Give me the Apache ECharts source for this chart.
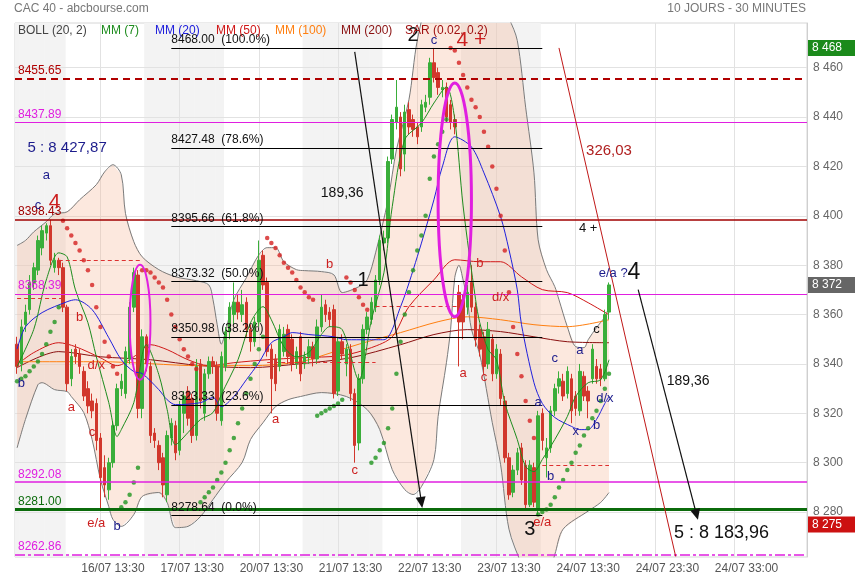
<!DOCTYPE html>
<html><head><meta charset="utf-8"><title>CAC 40</title>
<script src="https://cdn.jsdelivr.net/npm/echarts@6.0.0/dist/echarts.min.js"></script>
<style>html,body{margin:0;padding:0;background:#fff;}#chart{width:855px;height:580px;}</style>
</head><body><div id="chart"></div><script>
// ---------------- DATA ----------------
const TOTAL_SLOTS = 190, SLOTS_PER_DAY = 19, FIRST_DAY_START = 12, FIRST_LABEL_SLOT = 23, FIRST_GRID_SLOT = 20;
const Y_MIN = 8261.8, Y_MAX = 8478.1;
const xTickLabels = ['16/07 13:30','17/07 13:30','20/07 13:30','21/07 13:30','22/07 13:30','23/07 13:30','24/07 13:30','24/07 23:30','24/07 33:00'];
const yTickValues = [8280,8300,8320,8340,8360,8380,8400,8420,8440,8460];
// [open, close, low, high]
const candles = [
[8348,8339,8336,8351],[8340,8355,8337,8358],[8356,8361,8353,8364],[8362,8373,8360,8376],[8373,8379,8370,8381],
[8378,8390,8376,8392],[8387,8394,8384,8396],[8393,8396,8390,8397],[8396,8382,8380,8398.4],[8379,8382,8377,8385],
[8382,8379,8376,8383],[8379,8363,8361,8381],[8363,8332,8329,8364],[8334,8343,8331,8346],[8346,8343,8340,8348],
[8344,8339,8336,8346],[8337,8327,8325,8339],[8330,8323,8320,8333],[8325,8321,8318,8328],[8324,8309,8305,8326],
[8310,8294,8281,8312],[8298,8291,8286,8303],[8289,8300,8285,8302],[8300,8315,8298,8317],[8315,8330,8313,8332],
[8330,8333,8327,8336],[8328,8345,8326,8347],[8342,8363,8340,8365],[8363,8377,8361,8379],[8376,8322,8318,8378],
[8322,8351,8318,8354],[8351,8340,8337,8352],[8339,8311,8308,8341],[8312,8309,8306,8314],[8307,8300,8297,8309],
[8302,8291,8286,8304],[8287,8311,8284,8313],[8310,8316,8307,8318],[8315,8304,8301,8317],[8305,8323,8303,8325],
[8320,8327,8312,8329],[8329,8318,8315,8331],[8326,8311,8308,8328],[8311,8339,8309,8342],[8340,8325,8322,8342],
[8320,8336,8317,8338],[8336,8341,8334,8343],[8341,8339,8336,8343],[8339,8320,8317,8341],[8317,8343,8315,8345],
[8339,8353,8337,8355],[8353,8363,8350,8365],[8360,8365,8356,8373],[8365,8361,8358,8368],[8360,8364,8357,8370],
[8365,8354,8351,8367],[8354,8349,8345,8356],[8349,8357,8347,8359],[8357,8382,8355,8390],[8384,8372,8370,8386],
[8373,8345,8343,8375],[8346,8334,8320,8348],[8342,8332,8329,8344],[8339,8354,8337,8356],[8345,8352,8343,8355],
[8354,8343,8340,8356],[8350,8340,8337,8352],[8340,8345,8338,8347],[8351,8336,8333,8353],[8340,8343,8338,8345],
[8343,8347,8340,8350],[8347,8342,8339,8349],[8342,8355,8340,8358],[8355,8363,8353,8368],[8364,8360,8357,8366],
[8361,8358,8355,8363],[8362,8328,8326,8364],[8329,8349,8327,8351],[8349,8344,8342,8352],[8340,8346,8335,8348],
[8346,8328,8325,8348],[8328,8307,8300,8330],[8308,8334,8305,8336],[8334,8354,8332,8356],[8354,8359,8352,8361],
[8358,8365,8356,8367],[8363,8374,8361,8376],[8374,8390,8372,8392],[8389,8391,8386,8394],[8391,8422,8389,8424],
[8423,8439,8421,8441],[8438,8444,8435,8455],[8440,8419,8416,8442],[8425,8442,8418,8445],[8443,8436,8433,8446],
[8439,8435,8432,8441],[8436,8432,8429,8438],[8436,8445,8434,8447],[8444,8446,8442,8449],[8448,8462,8445,8464],
[8462,8456,8454,8468],[8458,8452,8449,8460],[8451,8452,8448,8455],[8452,8440,8438,8454],[8445,8438,8435,8447],
[8439,8436,8433,8441],[8369,8357,8339,8372],[8366,8357,8350,8368],[8363,8369,8360,8372],[8373,8363,8361,8380],
[8363,8350,8347,8365],[8354,8346,8343,8356],[8351,8339,8336,8353],[8340,8354,8338,8357],[8350,8336,8333,8352],
[8336,8346,8334,8348],[8344,8326,8323,8346],[8325,8302,8300,8327],[8302,8287,8285,8304],[8288,8297,8286,8299],
[8297,8304,8295,8306],[8306,8293,8291,8308],[8299,8283,8281,8301],[8283,8299,8282,8301],[8298,8284,8282,8300],
[8281,8319,8278.64,8321],[8320,8309,8305,8322],[8302,8306,8294,8310],[8306,8321,8304,8323],[8321,8330,8319,8332],
[8331,8334,8328,8337],[8333,8327,8325,8336],[8328,8337,8326,8339],[8334,8321,8316,8336],[8327,8322,8319,8329],
[8321,8337,8319,8340],[8335,8327,8325,8337],[8329,8325,8318,8331],[8334,8346,8332,8348],[8339,8334,8332,8342],
[8338,8334,8331,8340],[8334,8360,8333,8362],[8361,8372,8358,8373]
];
// indicators: [slot, value]
const bollUpper = [[0,8388],[2,8390],[4,8393.5],[7,8397.6],[9,8400.8],[12,8401.6],[15,8406.5],[19,8412.6],[21,8417.8],[23,8420.7],[25,8416.6],[26,8401],[28,8389.5],[30,8383.4],[34,8378.2],[38,8375.3],[43,8373.7],[46,8372],[47,8366],[48,8356],[49,8348],[50,8353],[52,8366],[55,8374.9],[58,8384.2],[60,8387.1],[62,8387.1],[64,8381.4],[67,8378.2],[69,8377.8],[73,8377.4],[76,8376.1],[78,8368.9],[82,8371.3],[84,8374.1],[86,8385],[89,8406.5],[91,8426.7],[94,8447],[96,8471],[99,8490],[103,8500],[107,8503],[111,8500],[115,8490],[118,8480],[120,8471],[122,8444],[124,8417.4],[125,8390.3],[127,8378.2],[129,8371.3],[130,8366],[132,8355.1],[134,8347],[136,8346.6],[137,8349.8],[139,8354.7],[141,8359.1],[142,8363.2]];
const bollLower = [[0,8306],[2,8317.5],[5,8331.6],[6,8332.4],[9,8329.6],[12,8328.8],[13,8326.8],[16,8320.3],[18,8309.4],[20,8293.2],[22,8282.2],[23,8277],[25,8274.2],[28,8279],[30,8286.3],[34,8287.9],[36,8283.9],[38,8273.7],[41,8274.2],[44,8278.2],[47,8285.1],[50,8292],[54,8300.1],[56,8309.4],[59,8316.2],[62,8322.7],[65,8325.5],[68,8326.8],[73,8328.4],[79,8326.8],[84,8321.5],[87,8313.4],[90,8297.2],[93,8289.1],[95,8287.1],[97,8290.3],[100,8301.3],[101,8318.7],[103,8340.5],[104,8354],[105,8375],[106,8380],[107,8374],[108,8366],[109,8354],[111,8343.8],[114,8316.2],[116,8299.2],[118,8273.1],[121,8258.8],[123,8250.7],[127,8252.7],[129,8262.8],[131,8273.1],[137,8280.4],[140,8283.9],[142,8287.9]];
const mm7 = [[0,8339],[4,8354],[7,8374],[10,8385],[12,8383.4],[14,8370],[17,8356.7],[19,8343],[22,8324.3],[24,8310.6],[25,8313.4],[28,8324.3],[31,8347.8],[34,8335.7],[36,8321.5],[38,8307.3],[41,8312.2],[44,8317.5],[47,8320.3],[49,8327.6],[53,8341.7],[56,8356.7],[59,8363.2],[61,8357.9],[64,8347],[67,8342.9],[70,8344.6],[73,8351.9],[75,8355.1],[78,8353.9],[82,8333.6],[85,8357.9],[88,8376.9],[90,8403.7],[93,8430.8],[97,8437.6],[100,8445.7],[103,8452.2],[105,8438.9],[107,8404],[110,8366],[111,8356.7],[113,8345.8],[115,8341.7],[117,8324.3],[120,8309.4],[122,8298.4],[124,8296.4],[126,8301.3],[129,8309.4],[132,8318.7],[134,8326.8],[137,8332.4],[140,8333.6],[142,8341.7]];
const mm20 = [[0,8346],[2,8355],[6,8360.8],[12,8365.2],[14,8366],[18,8362],[22,8350.6],[25,8341.7],[28,8336.9],[30,8336.1],[34,8329.6],[36,8325.5],[38,8323.5],[44,8324.3],[47,8326.4],[49,8322.7],[52,8326.8],[55,8333.6],[58,8340.5],[61,8348.6],[64,8351],[66,8352.7],[70,8351.9],[76,8351],[79,8349.8],[84,8349.8],[88,8349.8],[92,8363.2],[96,8383.4],[100,8406.5],[102,8419.8],[105,8432],[109,8427.9],[112,8417.4],[116,8399.6],[118,8386.3],[120,8370],[121,8356],[124,8332.4],[126,8324],[129,8318.3],[133,8314.7],[135,8313.4],[137,8313.4],[139,8317.5],[141,8324],[142,8326.8]];
const mm50 = [[0,8339.7],[4,8344.6],[10,8348.6],[14,8347],[20,8342.5],[24,8339.3],[28,8342.9],[32,8347.8],[36,8345.8],[41,8341.7],[46,8339.3],[52,8340.5],[60,8341.7],[68,8342.5],[78,8343.4],[85,8346.6],[90,8351],[94,8363.2],[100,8374.1],[105,8382.2],[111,8381.4],[116,8381.4],[121,8375.3],[126,8370.1],[132,8368.9],[137,8364.8],[142,8359.9]];
const mm100 = [[0,8340.9],[20,8340.9],[44,8339.3],[56,8339.3],[68,8340.9],[76,8344.9],[84,8349],[92,8352.7],[101,8357.1],[108,8359.1],[116,8357.9],[124,8355.9],[132,8355.1],[142,8357.9]];
const mm200 = [[0,8338.5],[10,8345],[20,8342.9],[32,8341.7],[44,8339.3],[56,8338.5],[68,8340.1],[80,8342.5],[92,8347.8],[100,8351.9],[108,8353.9],[116,8353.1],[124,8351],[132,8349],[142,8348.6]];
const sarAbove = [[11,8398],[12,8395],[13,8392],[14,8389],[15,8386],[16,8382],[17,8378],[18,8372],[19,8363],[20,8355],[21,8349],[22,8343],[23,8339],[24,8336],
[30,8378],[31,8378],[32,8377],[33,8375],[34,8373],[35,8371],[36,8366],[37,8360],[38,8355],[39,8350],[40,8346],[41,8343],[42,8340],[43,8338],
[60,8391],[61,8389],[62,8387],[63,8384],[64,8381],[65,8379],[66,8377],[67,8374],[68,8371],[69,8369],[70,8367],[71,8366],
[79,8375],[80,8373],[81,8370],[82,8367],[83,8364],[84,8362],
[104,8468],[105,8467],[106,8462],[107,8457],[108,8452],[109,8447],[110,8444],[111,8440],[112,8434],[113,8428],[114,8420],[115,8411],[116,8400],[117,8386],[118,8369],[119,8355],[120,8344],[121,8335],[122,8325],[123,8317],[124,8310]];
const sarBelow = [[0,8333],[1,8334],[2,8335],[3,8337],[4,8339],[5,8341],[6,8344],[7,8348],[8,8353],[9,8357],[10,8363],
[25,8282],[26,8284],[27,8287],[28,8292],[29,8298],
[44,8284],[45,8286],[46,8288],[47,8290],[48,8293],[49,8296],[50,8300],[51,8305],[52,8310],[53,8316],[54,8322],[55,8328],[56,8334],[57,8340],[58,8346],[59,8351],
[72,8319],[73,8320],[74,8321],[75,8322],[76,8323],[77,8324],[78,8325.5],
[85,8300],[86,8302],[87,8305],[88,8308],[89,8314],[90,8322],[91,8336],[92,8349],[93,8360],[94,8369],[95,8378],[96,8386],[97,8392],[98,8400],[99,8415],[100,8424],[101,8429],[102,8434],[103,8439],
[125,8279],[126,8280],[127,8281],[128,8283],[129,8286],[130,8290],[131,8293],[132,8297],[133,8300],[134,8304],[135,8307],[136,8311],[137,8314],[138,8318],[139,8321],[140,8325],[141,8330],[142,8336]];
// horizontal levels
const levelValues = [8455.65, 8437.89, 8398.43, 8368.39, 8292.08, 8281.00, 8262.86];
const fibValues = [8468.00, 8427.48, 8395.66, 8373.32, 8350.98, 8323.33, 8278.64];
const fibPercents = ['100.0%','78.6%','61.8%','50.0%','38.2%','23.6%','0.0%'];
const fibSlotRange = [36.5, 126.3];
// short dashed levels: [fromSlot, toSlot, value]
const dashedLevels = [[0, 10.8, 8366.7], [9.6, 30.2, 8382.2], [60, 86.3, 8340.5], [86.3, 105.5, 8363.2], [126.2, 142.3, 8299]];
// trend lines: [fromSlot, fromValue, toSlot, toValue]
const blackArrows = [[81.1, 8466.4, 97.4, 8283.9], [149.0, 8370.1, 163.1, 8279.0]];
const redLines = [[129.5, 8468, 157.8, 8262.0]];
// ellipses: [leftSlot, rightSlot, topValue, bottomValue]
const ellipses = [[26.6, 32.4, 8380.2, 8333.6], [101.0, 109.4, 8453.8, 8359.1]];
// price badges on the axis
const badgeValues = [8468, 8372, 8275];
const annotationTexts = ['5 : 8 427,87','a','c','4','b','b','a','d/x','c','e/a','b','b','1','189,36','a','c','2','c','4 +','b','a','c','d/x','326,03','4 +','e/a ?','4','c','a','c','a','d/x','x','b','b','189,36','3','e/a','5 : 8 183,96'];
const annotationAt = [[11.7,8427.5],[6.5,8416.2],[5.0,8404.1],[9.1,8405.7],[0.7,8332],[15.1,8358.7],[13.2,8322.3],[19.4,8339.3],[17.5,8312.2],[19.2,8275.4],[23.5,8274.2],[75.1,8380.2],[82.5,8373.7],[77.5,8409.3],[62.1,8317.5],[81.1,8296.8],[94.5,8472.9],[100,8471.2],[109.4,8471.2],[111.1,8380.6],[107,8336.1],[112,8334.5],[115.9,8366.8],[142.3,8426.3],[136.5,8394.7],[143,8376.5],[148,8377],[128.6,8342.1],[134.6,8345.4],[138.9,8353.9],[125,8324.3],[141.1,8326],[133.9,8312.6],[138.9,8315],[127.9,8294.4],[161.4,8333.2],[123.1,8273],[126.2,8275.8],[168.7,8271.7]];
const annotationKind = ['navyL','navy','navy','bigRed','navy','red','red','red','red','red','navy','red','big','black','red','red','big','navy','bigRed','red','red','red','red','darkred','blackS','navy','bigX','navy','navy','blackS','navy','navy','navy','navy','navy','black','big','red','blackL'];

// ---------------- STYLE ----------------
const FONT = 'Liberation Sans, Arial, sans-serif';
const COL = {up:'#3aae3a', down:'#d1372c', boll:'#7a7a7a', mm7:'#1e8c1e', mm20:'#2020dd', mm50:'#d01818', mm100:'#ff7f10', mm200:'#8a1010',
  sarUp:'#d42020', sarDn:'#1f951f', magenta:'#e01fe0', navy:'#1c1c8c', red:'#cc1f1f', darkred:'#a01010', green:'#0b6b0b'};
const levelStyles = [
  {color:'#b00000', width:2, type:[7,5], label:'#b00000'},
  {color:COL.magenta, width:1.2, type:'solid', label:COL.magenta},
  {color:'#a00000', width:1.5, type:'solid', label:'#a00000'},
  {color:COL.magenta, width:1.2, type:'solid', label:COL.magenta},
  {color:COL.magenta, width:1.5, type:'solid', label:COL.magenta},
  {color:COL.green, width:3, type:'solid', label:COL.green},
  {color:COL.magenta, width:1.5, type:[10,3,3,3], label:COL.magenta}
];
const kindStyle = {
  navyL:{c:COL.navy,s:15}, navy:{c:COL.navy,s:13}, red:{c:COL.red,s:13}, bigRed:{c:COL.red,s:21},
  big:{c:'#111',s:20}, bigX:{c:'#111',s:23}, black:{c:'#111',s:14}, blackS:{c:'#111',s:13}, blackL:{c:'#111',s:18}, darkred:{c:'#b02020',s:15}
};
const badgeColors = ['#1b8a1b', '#666666', '#cc1111'];

const fmtK = v => String(v).replace(/\B(?=(\d{3})+(?!\d))/g, ' ');
const categories = Array.from({length: TOTAL_SLOTS}, (_, i) => String(i));
const graySlots = [];
for (let s = 0; s < candles.length; s++) {
  if (Math.floor((s - FIRST_DAY_START) / SLOTS_PER_DAY) % 2 !== 0) graySlots.push([s, Y_MIN]);
}
const vGrid = [];
for (let s = FIRST_GRID_SLOT; s < TOTAL_SLOTS; s += SLOTS_PER_DAY) vGrid.push(s - 0.5);

const chart = echarts.init(document.getElementById('chart'), null, {renderer:'canvas'});

const lineSeries = (data, color, z) => ({type:'line', data, smooth:0.3, showSymbol:false, symbol:'none', silent:true,
  lineStyle:{color, width:1}, z: z || 2, animation:false});

const markLineData = [];
levelValues.forEach((v, i) => {
  const st = levelStyles[i];
  markLineData.push({yAxis: v, lineStyle:{color:st.color, width:st.width, type:st.type},
    label:{show:true, position:'insideStartTop', formatter: v.toFixed(2), color: st.label, fontSize:12, fontFamily:FONT, distance:[3,2]}});
});
fibValues.forEach((v, i) => {
  markLineData.push([{coord:[fibSlotRange[0], v], lineStyle:{color:'#000', width:1, type:'solid'},
    label:{show:true, position:'insideStartTop', formatter: v.toFixed(2) + '  (' + fibPercents[i] + ')', color:'#111', fontSize:12, fontFamily:FONT, distance:[0,2]}},
    {coord:[fibSlotRange[1], v]}]);
});
dashedLevels.forEach(d => {
  markLineData.push([{coord:[d[0], d[2]], lineStyle:{color:'#dd3030', width:1, type:[4,3]}, label:{show:false}}, {coord:[d[1], d[2]]}]);
});
blackArrows.forEach(a => {
  markLineData.push([{coord:[a[0], a[1]], symbol:'none', lineStyle:{color:'#111', width:1.2, type:'solid'}, label:{show:false}},
    {coord:[a[2], a[3]], symbol:'triangle', symbolSize:[10,11]}]);
});
redLines.forEach(a => {
  markLineData.push([{coord:[a[0], a[1]], lineStyle:{color:'#c01818', width:1, type:'solid'}, label:{show:false}}, {coord:[a[2], a[3]]}]);
});

const gridLineData = yTickValues.map(v => ({yAxis: v}))
  .concat(vGrid.map(s => [{coord:[s, Y_MIN]}, {coord:[s, Y_MAX]}]));

const option = {
  animation:false,
  textStyle:{fontFamily:FONT},
  grid:{left:15, right:48, top:23, bottom:23, show:true, borderColor:'#d6d6d6', borderWidth:1, backgroundColor:'#fff'},
  xAxis:{type:'category', data:categories, boundaryGap:true,
    axisLine:{show:false}, axisTick:{show:false}, splitLine:{show:false},
    axisLabel:{color:'#555', fontSize:12, fontFamily:FONT, margin:6,
      interval:(idx) => idx >= FIRST_LABEL_SLOT && (idx - FIRST_LABEL_SLOT) % SLOTS_PER_DAY === 0,
      formatter:(val, idx) => xTickLabels[(idx - FIRST_LABEL_SLOT) / SLOTS_PER_DAY] || ''}},
  yAxis:{type:'value', position:'right', min:Y_MIN, max:Y_MAX, scale:true,
    axisLine:{show:true, lineStyle:{color:'#cfcfcf'}}, axisTick:{show:false}, splitLine:{show:false},
    axisLabel:{customValues:yTickValues, color:'#666', fontSize:12, fontFamily:FONT, margin:6, formatter:v => fmtK(v)}},
  series:[
    {type:'custom', name:'days', data:graySlots, encode:{x:0, y:1}, z:0, silent:true, clip:true,
      renderItem:(params, api) => {
        const p = api.coord([api.value(0), Y_MIN]);
        const w = api.size([1, 0])[0];
        const cs = params.coordSys;
        return {type:'rect', shape:{x:p[0] - w/2, y:cs.y, width:w + 0.6, height:cs.height}, style:{fill:'#f3f3f3'}};
      }},
    {type:'line', data:[], silent:true, z:1,
      markLine:{silent:true, symbol:'none', z:1, animation:false, label:{show:false}, lineStyle:{color:'#e2e2e2', width:1, type:'solid'}, data:gridLineData}},
    {type:'custom', name:'bollfill', data:[[0, 8300]], encode:{x:0, y:1}, z:1, silent:true, clip:true,
      renderItem:(params, api) => {
        const pts = bollUpper.map(p => api.coord(p)).concat(bollLower.slice().reverse().map(p => api.coord(p)));
        return {type:'polygon', shape:{points:pts}, style:{fill:'rgba(244,180,145,0.30)'}};
      }},
    lineSeries(bollUpper, COL.boll), lineSeries(bollLower, COL.boll),
    lineSeries(mm200, COL.mm200), lineSeries(mm100, COL.mm100), lineSeries(mm50, COL.mm50),
    {type:'candlestick', data:candles.map(c => [c[0], c[1], c[2], c[3]]), barWidth:3, z:3, silent:true,
      itemStyle:{color:COL.up, color0:COL.down, borderColor:COL.up, borderColor0:COL.down, borderWidth:1}},
    lineSeries(mm20, COL.mm20, 4), lineSeries(mm7, COL.mm7, 4),
    {type:'scatter', data:sarAbove, symbolSize:4.5, itemStyle:{color:COL.sarUp}, z:4, silent:true},
    {type:'scatter', data:sarBelow, symbolSize:4.5, itemStyle:{color:COL.sarDn}, z:4, silent:true},
    {type:'line', data:[], silent:true, z:5,
      markLine:{silent:true, symbol:'none', z:5, animation:false, label:{show:false}, data:markLineData}}
  ]
};
chart.setOption(option);

// ---------- overlays placed through the chart's own scales ----------
const toPx = (slot, v) => chart.convertToPixel({gridIndex:0}, [slot, v]);
const graphics = [];
graphics.push({type:'text', left:14, top:3, style:{text:'CAC 40 - abcbourse.com', fill:'#777', font:'12px ' + FONT}, z:100});
graphics.push({type:'text', right:49, top:3, style:{text:'10 JOURS - 30 MINUTES', fill:'#777', font:'12px ' + FONT}, z:100});
const legendItems = [['BOLL (20, 2)','#444',18],['MM (7)',COL.mm7,101],['MM (20)',COL.mm20,155],['MM (50)',COL.mm50,216],['MM (100)',COL.mm100,275],['MM (200)',COL.mm200,341],['SAR (0.02, 0.2)',COL.darkred,405]];
legendItems.forEach(l => graphics.push({type:'text', x:l[2], y:31, style:{text:l[0], fill:l[1], font:'12px ' + FONT, textVerticalAlign:'middle'}, z:90}));
ellipses.forEach((e, i) => {
  const a = toPx(e[0], e[2]), b = toPx(e[1], e[3]);
  graphics.push({type:'ellipse', shape:{cx:(a[0]+b[0])/2, cy:(a[1]+b[1])/2, rx:Math.abs(b[0]-a[0])/2, ry:Math.abs(b[1]-a[1])/2},
    style:{fill:null, stroke:COL.magenta, lineWidth: i === 0 ? 2 : 3}, z:60});
});
annotationTexts.forEach((t, i) => {
  const p = toPx(annotationAt[i][0], annotationAt[i][1]);
  const st = kindStyle[annotationKind[i]];
  graphics.push({type:'text', x:p[0], y:p[1], style:{text:t, fill:st.c, font:st.s + 'px ' + FONT, textAlign:'center', textVerticalAlign:'middle'}, z:80});
});
badgeValues.forEach((v, i) => {
  const y = chart.convertToPixel({yAxisIndex:0}, v);
  graphics.push({type:'rect', shape:{x:808, y:y - 8, width:47, height:16}, style:{fill:badgeColors[i]}, z:95});
  graphics.push({type:'text', x:812, y:y, style:{text:fmtK(v), fill:'#fff', font:'12px ' + FONT, textVerticalAlign:'middle'}, z:96});
});
chart.setOption({graphic:graphics});
</script></body></html>
